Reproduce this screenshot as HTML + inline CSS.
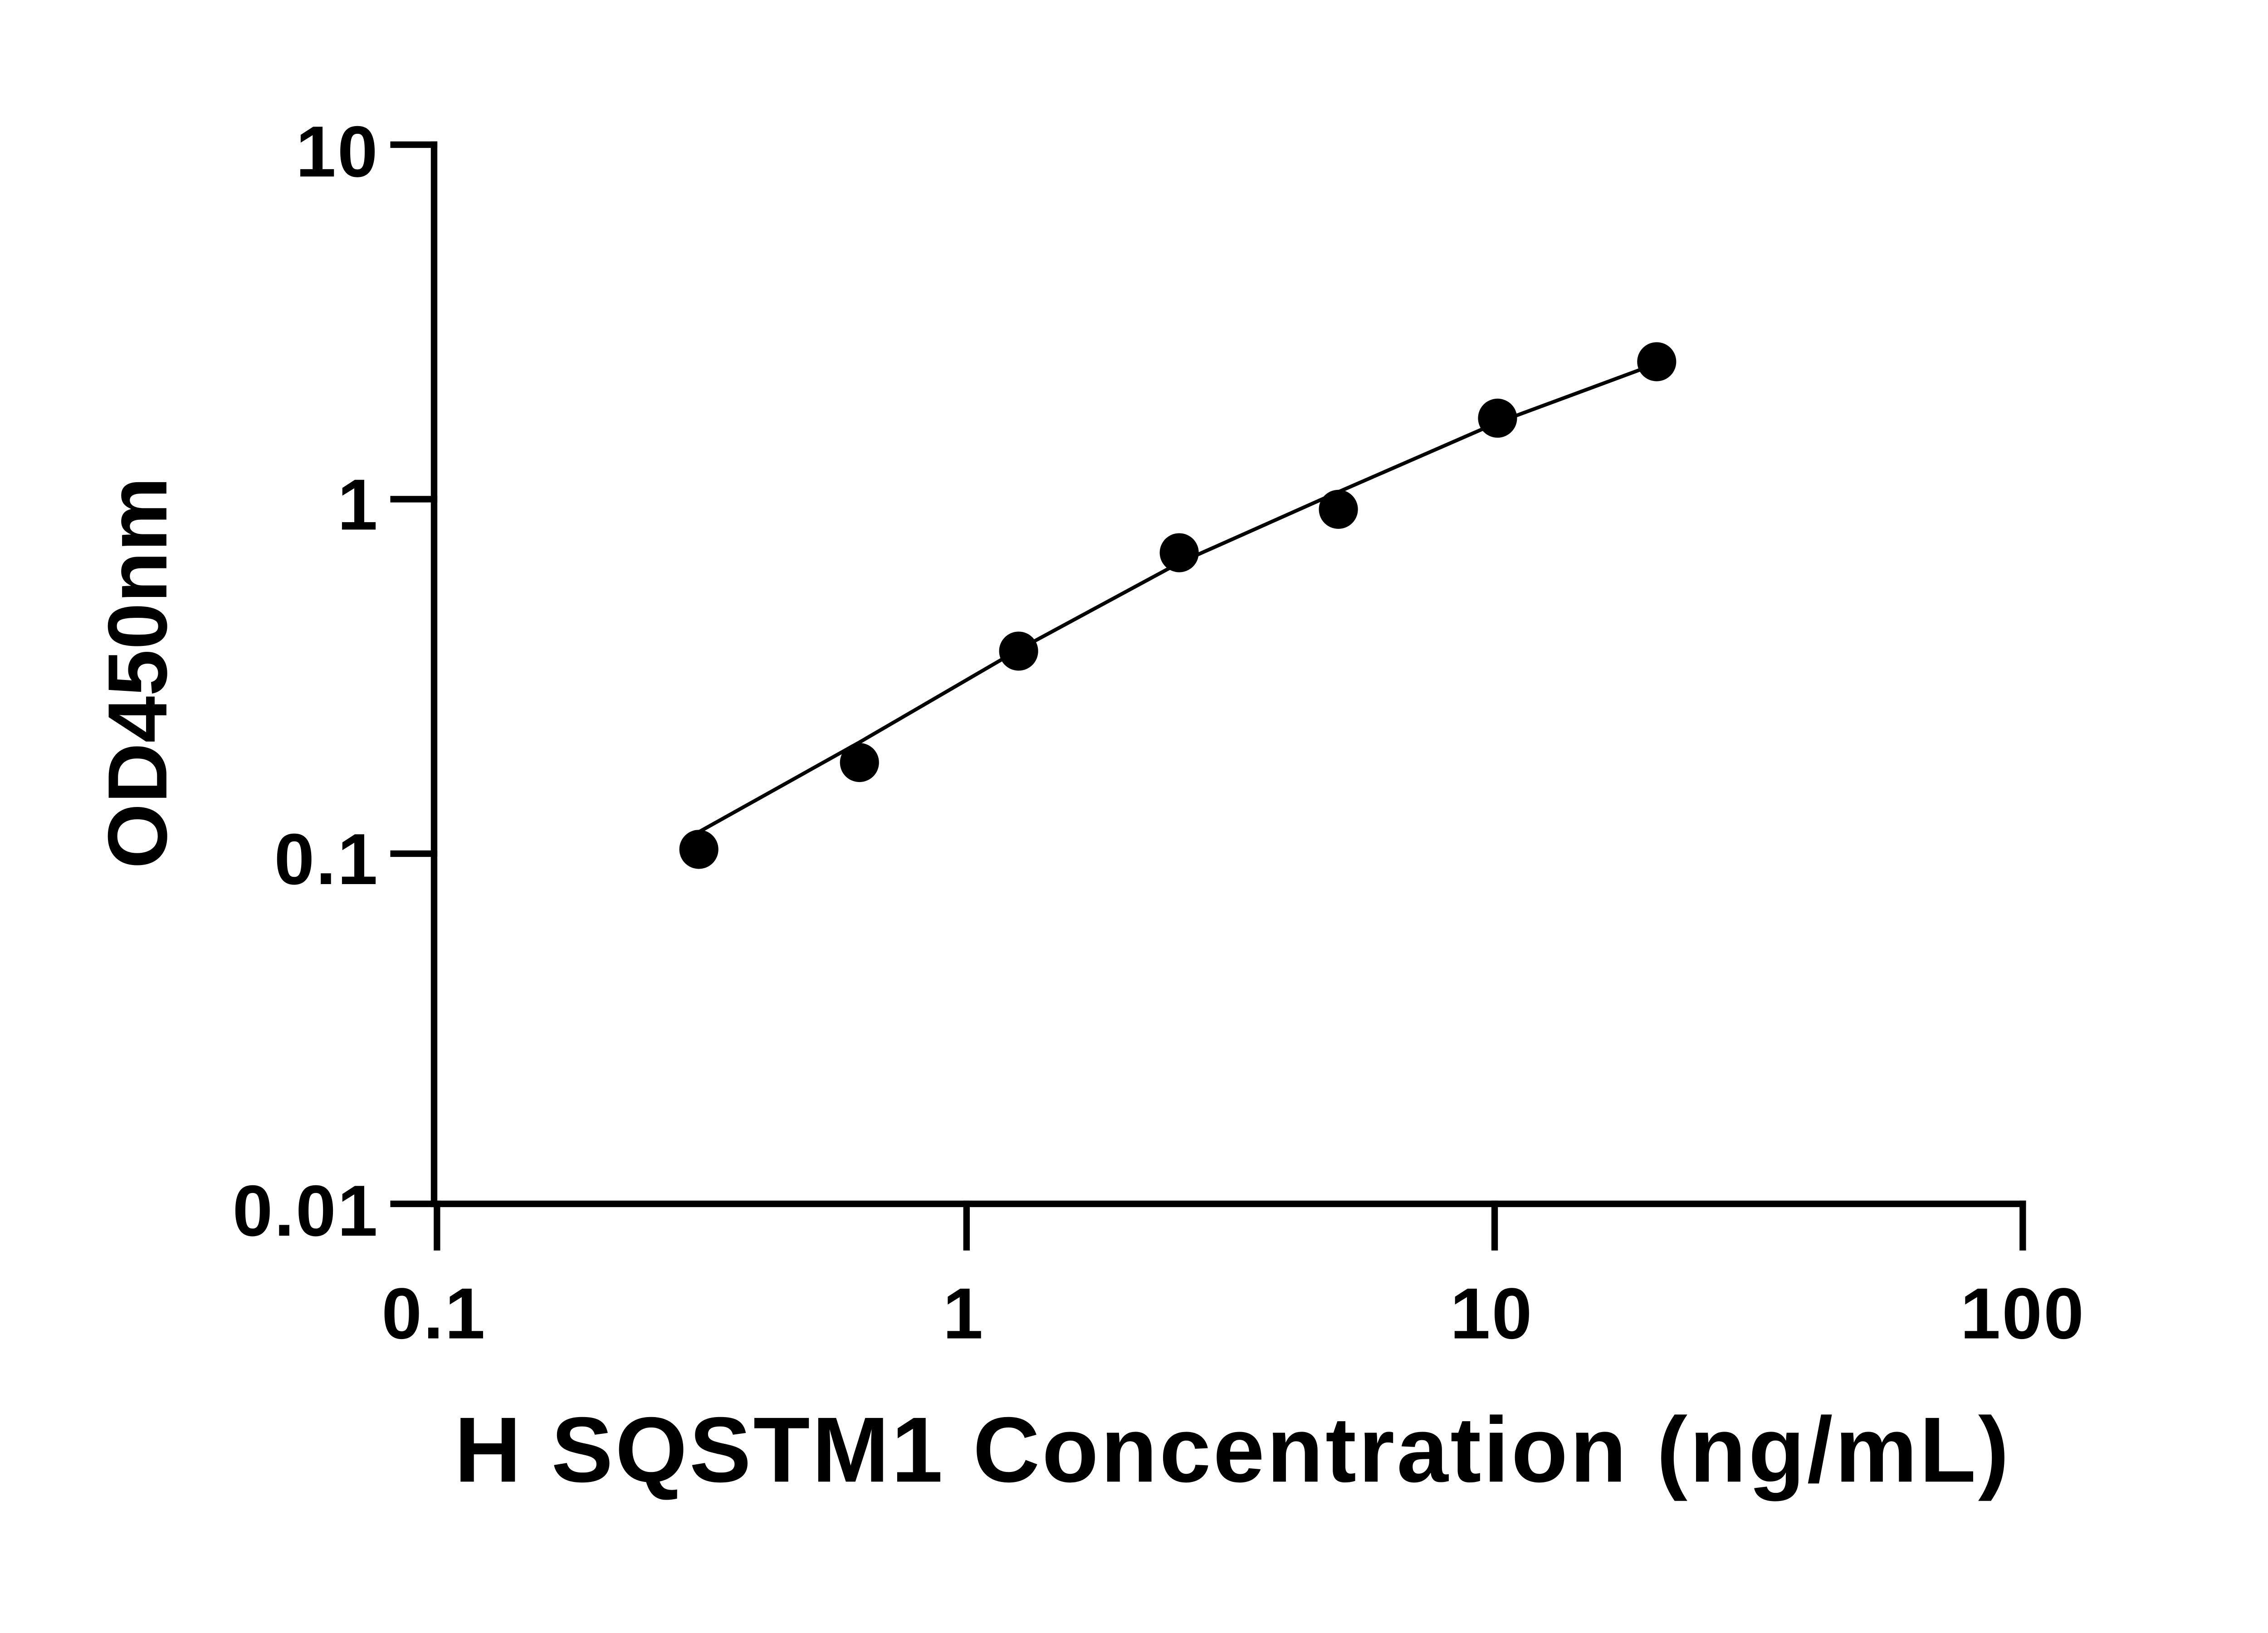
<!DOCTYPE html>
<html><head><meta charset="utf-8"><style>
html,body{margin:0;padding:0;background:#fff;}
svg{display:block;}
text{font-family:"Liberation Sans","DejaVu Sans",sans-serif;font-weight:bold;fill:#000;}
</style></head><body>
<svg width="5142" height="3600" viewBox="0 0 1612 1128.6" xmlns="http://www.w3.org/2000/svg">
<rect width="1612" height="1128.6" fill="#fff"/>
<g stroke="#000" stroke-width="4.5" fill="none" stroke-linecap="square">
<line x1="300" y1="100" x2="300" y2="832"/>
<line x1="300" y1="832" x2="1398" y2="832"/>
<line x1="272" y1="100" x2="300" y2="100"/>
<line x1="272" y1="345" x2="300" y2="345"/>
<line x1="272" y1="590" x2="300" y2="590"/>
<line x1="272" y1="832" x2="300" y2="832"/>
<line x1="302" y1="832" x2="302" y2="862"/>
<line x1="668" y1="832" x2="668" y2="862"/>
<line x1="1033" y1="832" x2="1033" y2="862"/>
<line x1="1398" y1="832" x2="1398" y2="862"/>
</g>
<polyline points="483,575 594,513 704,449 815,389 925,340 1035,292 1135,255" fill="none" stroke="#000" stroke-width="2.5"/>
<g fill="#000">
<circle cx="483" cy="587" r="13.5"/>
<circle cx="594" cy="527" r="13.5"/>
<circle cx="704" cy="450" r="13.5"/>
<circle cx="815" cy="382" r="13.5"/>
<circle cx="925" cy="352" r="13.5"/>
<circle cx="1035" cy="289" r="13.5"/>
<circle cx="1145" cy="250" r="13.5"/>
</g>
<g font-size="50" text-anchor="end" letter-spacing="1">
<text x="262" y="122">10</text>
<text x="262" y="366">1</text>
<text x="262" y="611">0.1</text>
<text x="262" y="854">0.01</text>
</g>
<g font-size="50" text-anchor="middle" letter-spacing="1">
<text x="300" y="925">0.1</text>
<text x="666" y="925">1</text>
<text x="1031" y="925">10</text>
<text x="1398" y="925">100</text>
</g>
<text x="852" y="1024" font-size="64" text-anchor="middle" letter-spacing="1.5">H SQSTM1 Concentration (ng/mL)</text>
<text transform="translate(115,465) rotate(-90)" font-size="58" text-anchor="middle">OD450nm</text>
</svg>
</body></html>
